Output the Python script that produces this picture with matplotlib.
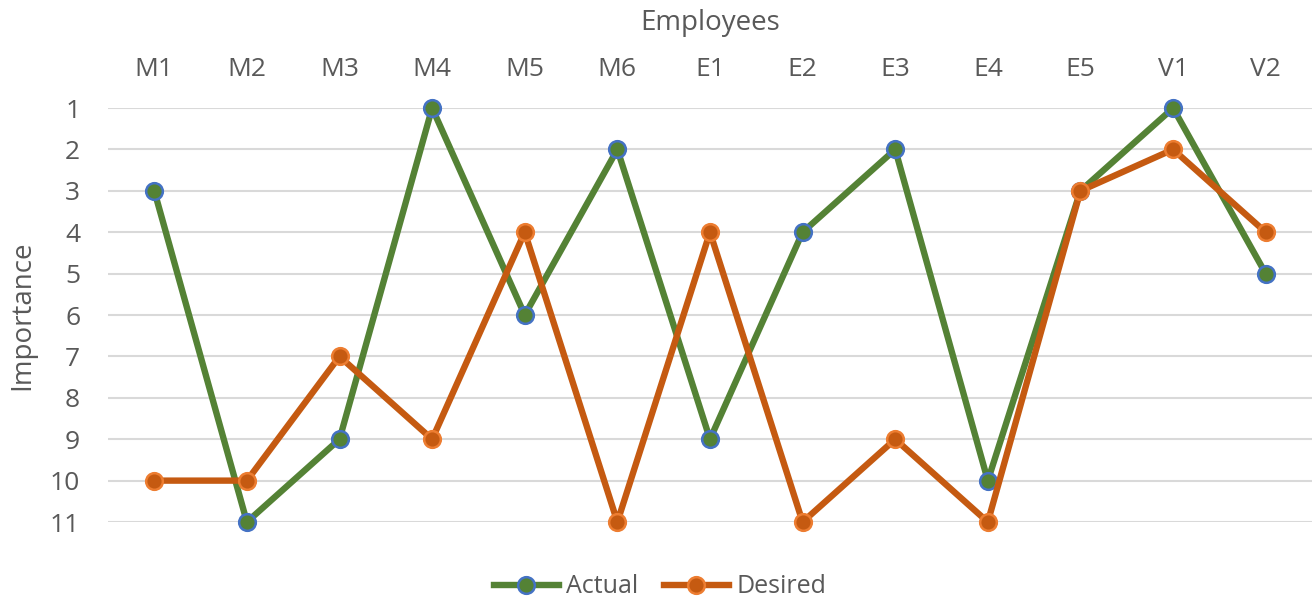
import matplotlib.pyplot as plt
from matplotlib.lines import Line2D

employees = ["M1", "M2", "M3", "M4", "M5", "M6", "E1", "E2", "E3", "E4", "E5", "V1", "V2"]
actual = [3, 11, 9, 1, 6, 2, 9, 4, 2, 10, 3, 1, 5]
desired = [10, 10, 7, 9, 4, 11, 4, 11, 9, 11, 3, 2, 4]
importance_ticks = list(range(1, 12))

plt.rcParams["font.family"] = ["Open Sans", "DejaVu Sans"]
text_color = "#595959"

fig = plt.figure(figsize=(13.12, 6.07), dpi=100)
ax = fig.add_axes([0.0823, 0.14, 0.9177, 0.682])

x = list(range(len(employees)))
green, green_edge = "#548235", "#4472C4"
orange, orange_edge = "#C55A11", "#ED7D31"
line_kw = dict(lw=4.6, marker="o", ms=12, mew=1.8)

ax.plot(x, actual, color=green, mfc=green, mec=green_edge, clip_on=False,
        zorder=3, label="Actual", **line_kw)
ax.plot(x, desired, color=orange, mfc=orange, mec=orange_edge, clip_on=False,
        zorder=3, label="Desired", **line_kw)

ax.set_xlim(-0.5, len(employees) - 0.5)
ax.set_ylim(11, 1)
ax.set_yticks(importance_ticks)
ax.set_xticks(x)
ax.set_xticklabels(employees)
ax.xaxis.tick_top()
ax.xaxis.set_label_position("top")
ax.tick_params(axis="both", length=0, labelsize=19, labelcolor=text_color)
ax.tick_params(axis="x", pad=19)
ax.tick_params(axis="y", pad=20)
ax.grid(axis="y", color="#D9D9D9", lw=1.5, zorder=0)
for s in ax.spines.values():
    s.set_visible(False)

ax.set_xlabel("Employees", fontsize=20, color=text_color, labelpad=19)
ax.set_ylabel("Importance", fontsize=20, color=text_color, labelpad=10)

handles = [
    Line2D([], [], color=green, mfc=green, mec=green_edge, **line_kw),
    Line2D([], [], color=orange, mfc=orange, mec=orange_edge, **line_kw),
]
fig.legend(handles, ["Actual", "Desired"], loc="center", bbox_to_anchor=(0.503, 0.033),
           ncol=2, frameon=False, fontsize=18, labelcolor=text_color,
           handlelength=2.6, columnspacing=1.0, handletextpad=0.3)

fig.savefig("out.png", dpi=100)
